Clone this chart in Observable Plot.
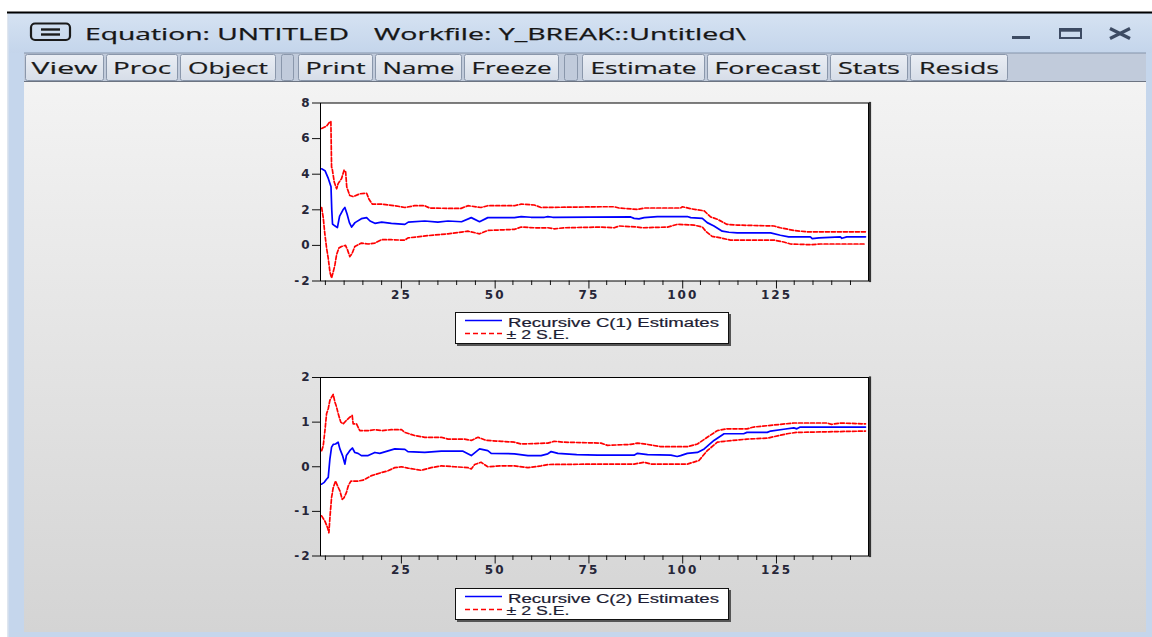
<!DOCTYPE html>
<html><head><meta charset="utf-8">
<script src="https://cdn.jsdelivr.net/npm/d3@7"></script>
<script src="https://cdn.jsdelivr.net/npm/@observablehq/plot@0.6"></script>
<style>
body{margin:0;width:1152px;height:637px;overflow:hidden;background:#fff;position:relative}
#chrome{position:absolute;left:0;top:0}
.chart{position:absolute}
.legend{position:absolute;background:#fff;border:1.5px solid #111;box-shadow:2px 2px 0 #555;box-sizing:border-box}
.legend svg{position:absolute;left:0;top:0}
</style></head><body>
<svg id="chrome" width="1152" height="637" font-family="'Open Sans', sans-serif">
  <defs>
    <linearGradient id="tg" x1="0" y1="0" x2="0" y2="1"><stop offset="0" stop-color="#d5e2f2"/><stop offset="1" stop-color="#c4d5eb"/></linearGradient>
    <linearGradient id="cg" x1="0" y1="0" x2="0" y2="1"><stop offset="0" stop-color="#f3f3f3"/><stop offset="1" stop-color="#d4d4d4"/></linearGradient>
  </defs>
  <rect x="8" y="13" width="1144" height="624" fill="#c5d6ec"/>
  <rect x="7" y="13" width="1.5" height="624" fill="#dfe6ef"/>
  <rect x="9" y="14" width="1143" height="39" fill="url(#tg)"/>
  <line x1="7" y1="12.5" x2="1152" y2="12.5" stroke="#000" stroke-width="2"/>
  <rect x="31" y="23.5" width="39" height="16.5" rx="4" fill="none" stroke="#1a1a1a" stroke-width="2.2"/>
  <line x1="41" y1="29.5" x2="60" y2="29.5" stroke="#1a1a1a" stroke-width="2.4"/>
  <line x1="41" y1="34.5" x2="60" y2="34.5" stroke="#1a1a1a" stroke-width="2.4"/>
  <text x="85" y="39.5" font-size="16.5" fill="#161616" stroke="#161616" stroke-width="0.25" textLength="264" lengthAdjust="spacingAndGlyphs">Equation: UNTITLED</text>
  <text x="374" y="39.5" font-size="16.5" fill="#161616" stroke="#161616" stroke-width="0.25" textLength="372" lengthAdjust="spacingAndGlyphs">Workfile: Y_BREAK::Untitled\</text>
  <rect x="1012" y="36" width="18" height="3" fill="#3d4b63"/>
  <rect x="1060" y="29" width="21" height="9" fill="none" stroke="#3d4b63" stroke-width="2"/>
  <rect x="1060" y="28.5" width="21" height="3.2" fill="#3d4b63"/>
  <line x1="1110" y1="28.5" x2="1130" y2="38.5" stroke="#3d4b63" stroke-width="3.2"/>
  <line x1="1110" y1="38.5" x2="1130" y2="28.5" stroke="#3d4b63" stroke-width="3.2"/>
  <rect x="24" y="53" width="1122" height="29" fill="#c1cbdb"/>
  <line x1="24" y1="53" x2="1146" y2="53" stroke="#8594aa" stroke-width="1"/>
  <line x1="24" y1="81.5" x2="1146" y2="81.5" stroke="#6c7482" stroke-width="1"/>
  <g id="btns" font-size="16" fill="#1a1a1a" stroke="#1a1a1a" stroke-width="0.2"></g>
  <rect x="24" y="82" width="1122" height="550" fill="url(#cg)"/>
</svg>
<div id="c1" class="chart" style="left:270px;top:92px"></div>
<div id="c2" class="chart" style="left:270px;top:366px"></div>
<div id="l1" class="legend" style="left:455px;top:312px;width:274px;height:32px"></div>
<div id="l2" class="legend" style="left:455px;top:588px;width:274px;height:32px"></div>
<script>
// Toolbar
const buttons = ["View","Proc","Object","Print","Name","Freeze","Estimate","Forecast","Stats","Resids"];
const buttonEdges = [[25,104],[106,178],[180,276],[298,373],[375,462],[464,559],[582,705],[707,828],[830,908],[910,1008]];
const buttonTextWidths = [66,58,80,60,72,80,106,106,62,80];
const separators = [[281,294],[564,578]];

// Observation range and ticks
const xDomain = [3.7, 149.8];
const majorTicks = [25, 50, 75, 100, 125];
const minorTicks = [5,10,15,20,30,35,40,45,55,60,65,70,80,85,90,95,105,110,115,120,130,135,140,145];

// Chart 1: Recursive C(1)
const c1Ticks = [-2, 0, 2, 4, 6, 8];
const c1Est = [[4.0,4.3],[4.9,4.2],[5.8,3.75],[6.5,3.3],[6.7,2.0],[6.9,1.2],[7.5,1.1],[8.2,1.0],[8.8,1.65],[9.7,2.0],[10.2,2.13],[10.8,1.75],[11.4,1.28],[12.0,1.03],[12.9,1.28],[14.6,1.5],[16.0,1.56],[16.9,1.37],[18.2,1.24],[20.0,1.31],[22.6,1.24],[26.2,1.18],[27.1,1.31],[31.5,1.37],[35.0,1.31],[37.7,1.37],[41.3,1.33],[43.9,1.56],[46.1,1.33],[48.3,1.56],[55.4,1.56],[57.2,1.62],[59.8,1.58],[63.4,1.58],[64.3,1.62],[65.6,1.58],[86.4,1.6],[87.3,1.52],[88.6,1.49],[90,1.56],[93.5,1.62],[101.5,1.62],[102.4,1.56],[105.5,1.52],[106.8,1.28],[108.6,1.09],[110.8,0.8],[112.6,0.74],[114.8,0.7],[123.7,0.7],[126.3,0.57],[128.5,0.48],[134.3,0.48],[134.8,0.38],[136.6,0.42],[142.3,0.48],[142.7,0.4],[144,0.48],[149,0.48]];
const c1Upper = [[4.0,6.57],[5.3,6.7],[6.2,6.95],[6.47,6.95],[6.65,4.4],[6.83,4.3],[7.36,3.56],[8.0,3.18],[8.4,3.47],[9.3,3.75],[10.0,4.23],[10.4,4.13],[10.7,3.28],[11.5,2.8],[12.4,2.74],[14.2,2.9],[16.0,2.93],[16.6,2.61],[17.5,2.32],[20,2.32],[23.5,2.23],[26.2,2.13],[28.8,2.23],[31.5,2.23],[32.8,2.1],[37.7,2.08],[41.2,2.08],[43,2.23],[46.5,2.13],[48.3,2.23],[55.4,2.23],[57.2,2.32],[60.7,2.27],[62.5,2.13],[78.5,2.17],[82,2.17],[83.3,2.1],[88.2,2.02],[90,2.1],[99.7,2.1],[100.2,2.17],[102.4,2.06],[106,1.94],[107.7,1.6],[109.5,1.47],[112.1,1.18],[114.8,1.14],[124.6,1.09],[126.3,0.99],[129.9,0.84],[133.4,0.76],[149,0.76]];
const c1Lower = [[4.0,2.13],[4.43,1.56],[4.88,0.61],[5.32,-0.15],[5.76,-0.72],[6.21,-1.49],[6.65,-1.83],[7.09,-1.49],[7.54,-1.1],[7.98,-0.53],[8.6,-0.15],[9.31,-0.06],[10.37,0],[10.9,-0.25],[11.52,-0.63],[12.15,-0.44],[12.85,-0.06],[14.63,0.13],[16.4,0.08],[18.17,0.13],[19.95,0.32],[22.6,0.32],[26.15,0.29],[27.04,0.42],[32.36,0.55],[37.7,0.65],[43,0.8],[46.1,0.65],[48.3,0.84],[55.4,0.9],[57.2,1.03],[60.7,0.99],[64.3,0.99],[66.04,0.93],[68.7,0.99],[78.5,1.03],[82,0.99],[83.3,1.09],[88.2,1.03],[89.5,0.99],[96.2,1.03],[98.8,1.18],[103.3,1.14],[105.5,1.03],[106.4,0.8],[108.1,0.51],[110.4,0.42],[113,0.3],[124.6,0.3],[127.2,0.19],[129,0.08],[134.3,0.04],[137,0.08],[149,0.08]];

// Chart 2: Recursive C(2)
const c2Ticks = [-2, -1, 0, 1, 2];
const c2Est = [[4.0,-0.39],[4.7,-0.35],[5.3,-0.28],[5.76,-0.24],[6.2,0.17],[6.65,0.44],[7.1,0.5],[7.7,0.51],[8.4,0.55],[8.87,0.4],[9.58,0.25],[10.2,0.06],[10.6,0.25],[11.5,0.36],[12.2,0.42],[12.85,0.32],[13.7,0.3],[14.6,0.25],[16.4,0.25],[18.2,0.32],[19.5,0.3],[23.5,0.4],[26.2,0.39],[27,0.34],[31.5,0.32],[35.9,0.35],[41.7,0.35],[43.9,0.25],[46.1,0.4],[48.3,0.36],[49.2,0.3],[55.4,0.29],[59,0.25],[62.5,0.25],[64.3,0.29],[65.2,0.34],[67,0.3],[72,0.27],[77.6,0.26],[87.3,0.26],[88.2,0.3],[90.9,0.27],[97.1,0.26],[98.8,0.23],[99.7,0.25],[101.5,0.3],[104.2,0.32],[106,0.4],[108.6,0.59],[111.3,0.74],[116.5,0.74],[117.4,0.77],[122.8,0.77],[123.7,0.8],[127.2,0.84],[129.9,0.87],[130.7,0.85],[131.6,0.89],[149,0.89]];
const c2Upper = [[4.0,0.36],[4.43,0.47],[4.88,0.81],[5.32,1.19],[5.76,1.3],[6.21,1.49],[6.65,1.56],[7.09,1.62],[7.54,1.45],[7.98,1.34],[8.42,1.19],[9.1,1.0],[9.75,0.96],[10.6,1.04],[11.52,1.11],[12.15,1.15],[12.41,0.96],[13.3,0.96],[14.18,0.81],[16.4,0.81],[18.17,0.83],[19.95,0.81],[22.6,0.83],[25.3,0.83],[26.15,0.77],[28.8,0.7],[31.5,0.66],[35.9,0.66],[37.7,0.62],[42.1,0.62],[43.9,0.59],[45.7,0.66],[47.9,0.59],[51.9,0.57],[55.4,0.55],[57.2,0.51],[64.3,0.53],[66,0.57],[68.7,0.55],[78.5,0.53],[80.2,0.48],[86.4,0.5],[88.2,0.53],[90.9,0.5],[94.4,0.45],[101.5,0.45],[104.2,0.51],[106.8,0.66],[109.5,0.81],[112.1,0.85],[117.4,0.85],[119.2,0.89],[126.3,0.95],[129.9,0.98],[138.7,0.98],[140,0.95],[142.3,0.98],[149,0.96]];
const c2Lower = [[4.0,-1.1],[4.88,-1.22],[5.6,-1.37],[5.94,-1.48],[6.21,-1.14],[6.65,-0.69],[7.09,-0.47],[7.71,-0.32],[8.24,-0.43],[8.87,-0.54],[9.49,-0.73],[10.0,-0.69],[10.6,-0.58],[11.1,-0.43],[11.8,-0.32],[13.75,-0.32],[15.07,-0.3],[17.3,-0.2],[19.95,-0.13],[21.7,-0.09],[23.5,-0.02],[25.3,0],[27,-0.03],[30.6,-0.08],[33.2,-0.02],[35.9,0.02],[39.4,0],[43,-0.02],[43.9,-0.05],[44.8,0.05],[46.5,0.1],[48.3,0],[51.9,0.02],[55.4,0.02],[59,-0.02],[62.5,0.02],[64.3,0.05],[78.5,0.06],[87.3,0.06],[90,0.1],[91.8,0.06],[101.5,0.06],[104.6,0.14],[106.8,0.36],[109.5,0.55],[111.3,0.57],[117.4,0.62],[122.8,0.64],[128.1,0.74],[130.7,0.77],[149,0.8]];

const legend1 = ["Recursive C(1) Estimates", "± 2 S.E."];
const legend2 = ["Recursive C(2) Estimates", "± 2 S.E."];

// ---- toolbar drawing
const NS = "http://www.w3.org/2000/svg";
const g = document.getElementById("btns");
function el(tag, attrs, parent) { const e = document.createElementNS(NS, tag); for (const k in attrs) e.setAttribute(k, attrs[k]); parent.appendChild(e); return e; }
const grad = el("linearGradient", {id: "btg", x1: 0, y1: 0, x2: 0, y2: 1}, document.querySelector("#chrome defs"));
el("stop", {offset: 0, "stop-color": "#eaeef4"}, grad); el("stop", {offset: 1, "stop-color": "#d6dde8"}, grad);
buttons.forEach((b, i) => {
  const [a, z] = buttonEdges[i];
  el("rect", {x: a + 0.5, y: 54.5, width: z - a - 1, height: 26, rx: 2, fill: "url(#btg)", stroke: "#8a97ab", "stroke-width": 1}, g);
  const t = el("text", {x: (a + z) / 2 - buttonTextWidths[i] / 2, y: 74, textLength: buttonTextWidths[i], lengthAdjust: "spacingAndGlyphs"}, g);
  t.textContent = b;
});
separators.forEach(([a, z]) => el("rect", {x: a + 0.5, y: 54.5, width: z - a - 1, height: 26, rx: 2, fill: "#c1cbdb", stroke: "#8a97ab", "stroke-width": 1}, g));

// ---- charts
function chart(est, upper, lower, yTicks, marginTop, marginBottom) {
  const acc = {x: d => d[0], y: d => d[1]};
  return Plot.plot({
    width: 610, height: 215,
    marginLeft: 50, marginRight: 12, marginTop, marginBottom,
    style: {background: "transparent", fontFamily: "'DejaVu Sans', sans-serif", fontSize: "12px", fontWeight: "bold", color: "#262638", letterSpacing: "2px", overflow: "visible"},
    x: {domain: xDomain},
    y: {domain: [yTicks[0], yTicks[yTicks.length - 1]]},
    marks: [
      Plot.frame({fill: "white"}),
      Plot.axisY({ticks: yTicks, tickSize: 8, tickPadding: 1, tickFormat: d => String(d), label: null, stroke: "#111"}),
      Plot.axisX({ticks: minorTicks, tickSize: 4.5, tickFormat: () => "", label: null, stroke: "#111"}),
      Plot.axisX({ticks: majorTicks, tickSize: 8, tickPadding: 1, tickFormat: d => String(d), label: null, stroke: "#111", dx: 1}),
      Plot.line(upper, {...acc, stroke: "#ff0000", strokeWidth: 1.7, strokeDasharray: "4,2"}),
      Plot.line(lower, {...acc, stroke: "#ff0000", strokeWidth: 1.7, strokeDasharray: "4,2"}),
      Plot.line(est, {...acc, stroke: "#0000ff", strokeWidth: 1.7}),
      Plot.frame({stroke: "#000", strokeWidth: 1}),
      Plot.frame({anchor: "right", stroke: "#333", strokeWidth: 2.2, dx: 1.5})
    ]
  });
}
document.getElementById("c1").appendChild(chart(c1Est, c1Upper, c1Lower, c1Ticks, 10.5, 26.5));
document.getElementById("c2").appendChild(chart(c2Est, c2Upper, c2Lower, c2Ticks, 11, 25.5));

// ---- legends
function legend(id, labels) {
  const box = document.getElementById(id);
  const s = el("svg", {width: 272, height: 30, "font-family": "'Liberation Sans', Arial, sans-serif", "font-size": 12, fill: "#1d1d33", stroke: "#1d1d33", "stroke-width": 0.2}, box);
  el("line", {x1: 9, x2: 46, y1: 7.5, y2: 7.5, stroke: "#0000ff", "stroke-width": 1.5}, s);
  el("line", {x1: 9, x2: 46, y1: 20.5, y2: 20.5, stroke: "#ff0000", "stroke-width": 1.5, "stroke-dasharray": "5,3"}, s);
  const t1 = el("text", {x: 52, y: 13.5, textLength: 211, lengthAdjust: "spacingAndGlyphs"}, s); t1.textContent = labels[0];
  const t2 = el("text", {x: 50.5, y: 25.5, textLength: 63, lengthAdjust: "spacingAndGlyphs"}, s); t2.textContent = labels[1];
}
legend("l1", legend1);
legend("l2", legend2);
</script>
</body></html>
